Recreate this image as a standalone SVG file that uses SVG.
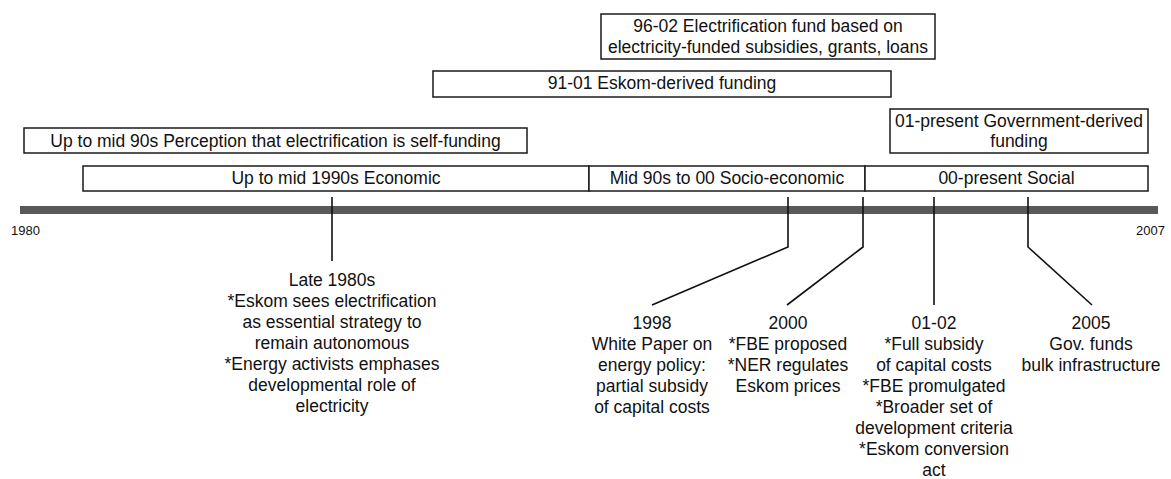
<svg xmlns="http://www.w3.org/2000/svg" width="1171" height="479" viewBox="0 0 1171 479">
  <style>
    .box { fill: #ffffff; stroke: #1a1a1a; stroke-width: 1.5; }
    .t { font-family: "Liberation Sans", Arial, sans-serif; font-size: 17.5px; fill: #111111; text-anchor: middle; }
    .yr { font-family: "Liberation Sans", Arial, sans-serif; font-size: 13px; fill: #111111; }
    .con { fill: none; stroke: #111111; stroke-width: 1.6; }
  </style>
  <rect x="0" y="0" width="1171" height="479" fill="#ffffff"/>

  <g id="axis">
    <rect x="20" y="206" width="1138" height="8" fill="#595959"/>
    <text class="yr" x="11" y="235">1980</text>
    <text class="yr" x="1136" y="235">2007</text>
  </g>

  <g id="connectors">
    <polyline class="con" points="332,197 332,261"/>
    <polyline class="con" points="788,197 788,247 652,305"/>
    <polyline class="con" points="863,197 863,247 787,305"/>
    <polyline class="con" points="934,197 934,305"/>
    <polyline class="con" points="1028,197 1028,247 1092,305"/>
  </g>

  <g id="fund-96-02">
    <rect class="box" x="601" y="14" width="334" height="45"/>
    <text class="t" x="768" y="32">96-02 Electrification fund based on</text>
    <text class="t" x="768" y="53">electricity-funded subsidies, grants, loans</text>
  </g>

  <g id="fund-91-01">
    <rect class="box" x="433" y="71" width="458" height="26"/>
    <text class="t" x="662" y="89">91-01 Eskom-derived funding</text>
  </g>

  <g id="fund-01-present">
    <rect class="box" x="890" y="109" width="258" height="44"/>
    <text class="t" x="1019" y="127">01-present Government-derived</text>
    <text class="t" x="1019" y="147">funding</text>
  </g>

  <g id="perception">
    <rect class="box" x="24" y="128" width="503" height="25"/>
    <text class="t" x="275.5" y="146.5">Up to mid 90s Perception that electrification is self-funding</text>
  </g>

  <g id="phase-economic">
    <rect class="box" x="83" y="166" width="506" height="25"/>
    <text class="t" x="336" y="184">Up to mid 1990s Economic</text>
  </g>

  <g id="phase-socio">
    <rect class="box" x="589" y="166" width="276" height="25"/>
    <text class="t" x="727" y="184">Mid 90s to 00 Socio-economic</text>
  </g>

  <g id="phase-social">
    <rect class="box" x="865" y="166" width="283" height="25"/>
    <text class="t" x="1006.5" y="184">00-present Social</text>
  </g>

  <g id="event-late-1980s">
    <text class="t" x="332" y="286">Late 1980s</text>
    <text class="t" x="332" y="307">*Eskom sees electrification</text>
    <text class="t" x="332" y="328">as essential strategy to</text>
    <text class="t" x="332" y="349">remain autonomous</text>
    <text class="t" x="332" y="370">*Energy activists emphases</text>
    <text class="t" x="332" y="391">developmental role of</text>
    <text class="t" x="332" y="412">electricity</text>
  </g>

  <g id="event-1998">
    <text class="t" x="652" y="329">1998</text>
    <text class="t" x="652" y="350">White Paper on</text>
    <text class="t" x="652" y="371">energy policy:</text>
    <text class="t" x="652" y="392">partial subsidy</text>
    <text class="t" x="652" y="413">of capital costs</text>
  </g>

  <g id="event-2000">
    <text class="t" x="788" y="329">2000</text>
    <text class="t" x="788" y="350">*FBE proposed</text>
    <text class="t" x="788" y="371">*NER regulates</text>
    <text class="t" x="788" y="392">Eskom prices</text>
  </g>

  <g id="event-01-02">
    <text class="t" x="934" y="329">01-02</text>
    <text class="t" x="934" y="350">*Full subsidy</text>
    <text class="t" x="934" y="371">of capital costs</text>
    <text class="t" x="934" y="392">*FBE promulgated</text>
    <text class="t" x="934" y="413">*Broader set of</text>
    <text class="t" x="934" y="434">development criteria</text>
    <text class="t" x="934" y="455">*Eskom conversion</text>
    <text class="t" x="934" y="476">act</text>
  </g>

  <g id="event-2005">
    <text class="t" x="1091" y="329">2005</text>
    <text class="t" x="1091" y="350">Gov. funds</text>
    <text class="t" x="1091" y="371">bulk infrastructure</text>
  </g>
</svg>
